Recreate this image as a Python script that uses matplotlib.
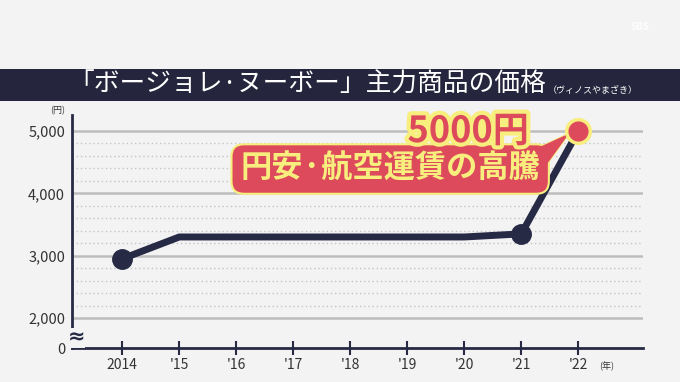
import matplotlib
matplotlib.use('Agg')
import matplotlib.pyplot as plt
import matplotlib.patheffects as pe
from matplotlib.patches import Rectangle
import numpy as np

plt.rcParams['font.family'] = ['Noto Sans CJK JP', 'DejaVu Sans']

# データ
years = [2014, 2015, 2016, 2017, 2018, 2019, 2020, 2021, 2022]
year_labels = ['2014', "'15", "'16", "'17", "'18", "'19", "'20", "'21", "'22"]
prices = [2950, 3300, 3300, 3300, 3300, 3300, 3300, 3350, 5000]
y_ticks = [2000, 3000, 4000, 5000]
y_tick_labels = ['2,000', '3,000', '4,000', '5,000']

title = '「ボージョレ·ヌーボー」主力商品の価格'
source = '（ヴィノスやまざき）'
note_price = '5000円'
note_reason = '円安·航空運賃の高騰'

navy = '#272a45'
red = '#dc4a5c'
yellow = '#f7ee7e'
bg = '#f3f3f3'

fig = plt.figure(figsize=(6.8, 3.82), dpi=100, facecolor=bg)

# タイトル帯
fig.patches.append(Rectangle((0, 0.735), 1, 0.085, transform=fig.transFigure,
                             facecolor='#25263d', edgecolor='none', zorder=0))
fig.text(0.803, 0.777, title, color='white', fontsize=18.5, ha='right', va='center')
fig.text(0.806, 0.763, source, color='white', fontsize=6.5, ha='left', va='center')
fig.text(0.955, 0.93, 'SBS', color='white', fontsize=7, ha='right', va='center',
         fontweight='bold', alpha=0.9)

ax = fig.add_axes([0.106, 0.089, 0.84, 0.61], facecolor=bg)
y_bottom = 1519
ax.set_xlim(2013.12, 2023.14)
ax.set_ylim(y_bottom, 5257)

# 補助線
for v in np.arange(2200, 5000, 200):
    if v % 1000:
        ax.axhline(v, color='#c4c4c4', lw=1, ls=(0, (1, 2)), zorder=1)
for v in y_ticks:
    ax.axhline(v, color='#bdbdbd', lw=1.8, zorder=1)

ax.plot(years, prices, color=navy, lw=5, solid_capstyle='round', zorder=3)
ax.plot([years[0], years[-2]], [prices[0], prices[-2]], 'o', ms=14, color=navy, zorder=4)
ax.plot(years[-1], prices[-1], 'o', ms=17, color=red, mec=yellow, mew=2.5, zorder=8)

for s in ['top', 'right']:
    ax.spines[s].set_visible(False)
for s in ['left', 'bottom']:
    ax.spines[s].set_color(navy)
    ax.spines[s].set_linewidth(2)

ax.set_xticks(years)
ax.set_xticklabels(year_labels)
ax.set_yticks([y_bottom] + y_ticks)
ax.set_yticklabels(['0'] + y_tick_labels)
ax.tick_params(axis='x', direction='inout', length=10, width=1.5, color=navy,
               labelsize=10, labelcolor='#333333', pad=2)
ax.tick_params(axis='y', length=0, labelsize=10.5, labelcolor='#333333', pad=5)

ax.text(-0.025, 1.0, '(円)', transform=ax.transAxes, fontsize=6.5, color='#333333',
        ha='center', va='bottom')
ax.text(2022.5, -0.058, '(年)', transform=ax.get_xaxis_transform(), fontsize=6.5,
        color='#333333', ha='center', va='top')
ax.text(0.007, 0.045, '≈', transform=ax.transAxes, fontsize=15, color=navy,
        ha='center', va='center', fontweight='bold', zorder=6,
        bbox=dict(boxstyle='square,pad=0.0', fc=bg, ec='none'),
        family=['DejaVu Sans'])

# 注記（吹き出し）
tail_x = [2021.22, 2021.42, years[-1] - 0.16]
tail_y = [4700, 4430, prices[-1] - 40]
ax.fill(tail_x, tail_y, color=red, ec=yellow, lw=1.2, zorder=6)
ax.text(2018.7, 4390, note_reason, fontsize=22.5, fontweight='bold', color=yellow,
        ha='center', va='center', zorder=7,
        bbox=dict(boxstyle='round,pad=0.28,rounding_size=0.4', fc=red, ec=yellow, lw=1.5))
ax.fill(tail_x, tail_y, color=red, ec='none', zorder=7.5)
ax.text(2020.07, 4990, note_price, fontsize=26, fontweight='bold', color=red,
        ha='center', va='center', zorder=9,
        path_effects=[pe.withStroke(linewidth=6, foreground=yellow)])

fig.savefig('out.png', dpi=100, facecolor=bg)
